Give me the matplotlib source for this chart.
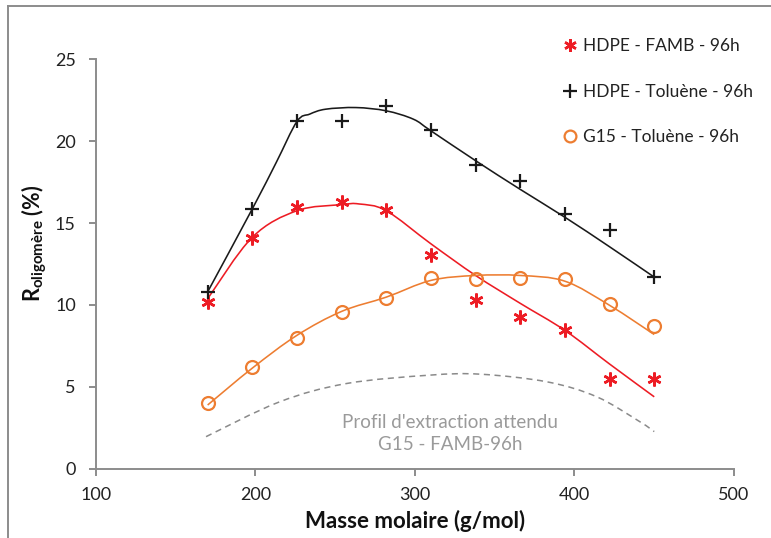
import numpy as np
import matplotlib
matplotlib.use("Agg")
import matplotlib.pyplot as plt
from matplotlib.lines import Line2D
from matplotlib.path import Path
from matplotlib.patches import PathPatch

plt.rcParams['font.family'] = ['Lato', 'DejaVu Sans']
plt.rcParams['mathtext.fontset'] = 'custom'
plt.rcParams['mathtext.rm'] = 'Lato'
plt.rcParams['mathtext.bf'] = 'Lato:bold'

# ---- measured points ----
masse = [170, 198, 226, 254, 282, 310, 338, 366, 394, 422, 450]
hdpe_famb = [10.2, 14.1, 16.0, 16.3, 15.8, 13.05, 10.3, 9.25, 8.5, 5.5, 5.5]
hdpe_toluene = [10.8, 15.85, 21.2, 21.2, 22.15, 20.65, 18.55, 17.55, 15.55, 14.55, 11.7]
g15_toluene = [4.0, 6.2, 8.0, 9.6, 10.45, 11.62, 11.6, 11.65, 11.57, 10.07, 8.7]

# ---- trend curves ----
tol_x = [170, 198, 213, 226, 234, 244, 263, 282, 299, 310, 338, 366, 394, 422, 450]
tol_y = [10.8, 15.86, 18.69, 21.19, 21.64, 21.94, 22.04, 21.84, 21.33, 20.62, 18.8, 17.05, 15.35, 13.55, 11.7]
famb_x = [170, 198, 226, 254, 265, 282, 310, 338, 366, 394, 422, 450]
famb_y = [10.38, 14.13, 15.75, 16.12, 16.16, 15.75, 13.73, 11.8, 10.1, 8.45, 6.4, 4.4]
g15_x = [170, 198, 226, 254, 282, 310, 338, 366, 394, 422, 450]
g15_y = [3.9, 6.15, 8.15, 9.61, 10.48, 11.5, 11.8, 11.8, 11.45, 9.98, 8.2]
att_x = [169, 215, 257, 309, 341, 383, 414, 441, 450]
att_y = [1.97, 4.09, 5.21, 5.72, 5.78, 5.31, 4.4, 2.88, 2.28]

labels = ["HDPE - FAMB - 96h", "HDPE - Toluène - 96h", "G15 - Toluène - 96h"]
annot = "Profil d'extraction attendu\nG15 - FAMB-96h"
xlabel = "Masse molaire (g/mol)"

red = '#ED1C24'
black = '#1A1A1A'
orange = '#ED7D31'
gray = '#8A8A8A'

fig = plt.figure(figsize=(7.71, 5.38), dpi=100)
ax = fig.add_axes([0.1245, 0.1283, 0.8275, 0.762])


def smooth_path(xv, yv):
    P = np.column_stack([xv, yv]).astype(float)
    P = np.vstack([P[0], P, P[-1]])
    verts = [P[1]]
    codes = [Path.MOVETO]
    for i in range(1, len(P) - 2):
        c1 = P[i] + (P[i + 1] - P[i - 1]) / 6.0
        c2 = P[i + 1] - (P[i + 2] - P[i]) / 6.0
        verts += [c1, c2, P[i + 1]]
        codes += [Path.CURVE4] * 3
    return Path(verts, codes)


def curve(xv, yv, color, lw=1.15, ls='-'):
    ax.add_patch(PathPatch(smooth_path(xv, yv), facecolor='none', edgecolor=color,
                           lw=lw, ls=ls, transform=ax.transData))


curve(tol_x, tol_y, black)
curve(famb_x, famb_y, red)
curve(g15_x, g15_y, orange)
curve(att_x, att_y, gray, lw=1.1, ls=(0, (4, 3)))

ax.plot(masse, hdpe_famb, ls='none', marker=(6, 2, 0), ms=10, mec=red, mew=1.8)
ax.plot(masse, hdpe_toluene, ls='none', marker='+', ms=10, mec=black, mew=1.6)
ax.plot(masse, g15_toluene, ls='none', marker='o', ms=9.3, mfc='none', mec=orange, mew=1.6)

ax.set_xlim(100, 500)
ax.set_ylim(0, 25)
ax.set_xticks([100, 200, 300, 400, 500])
ax.set_yticks([0, 5, 10, 15, 20, 25])
for s in ['top', 'right']:
    ax.spines[s].set_visible(False)
for s in ['left', 'bottom']:
    ax.spines[s].set_color('#8C8C8C')
    ax.spines[s].set_linewidth(1.4)
ax.tick_params(direction='out', length=5, width=1.4, color='#8C8C8C',
               labelsize=13, labelcolor='#222222')
ax.tick_params(axis='y', pad=9.5)
ax.tick_params(axis='x', pad=8)

ax.set_xlabel(xlabel, fontsize=16, fontweight='bold', color='#111111', labelpad=5)
ax.set_ylabel(r'$\mathbf{R}_{\mathbf{oligomère}}$ (%)', fontsize=15.5,
              fontweight='bold', color='#111111')
ax.yaxis.set_label_coords(-0.073, 0.55)

ax.text(322, 2.16, annot, ha='center', va='center', color='#9A9A9A',
        fontsize=13.5, linespacing=1.4)

handles = [
    Line2D([], [], ls='none', marker=(6, 2, 0), ms=9, mec=red, mew=1.8),
    Line2D([], [], ls='none', marker='+', ms=10, mec=black, mew=1.6),
    Line2D([], [], ls='none', marker='o', ms=8.5, mfc='none', mec=orange, mew=1.6),
]
fig.legend(handles, labels, loc='upper left', bbox_to_anchor=(0.712, 0.958),
           frameon=False, fontsize=12.5, labelspacing=1.7, handlelength=0.6,
           handletextpad=0.45, labelcolor='#222222')

# outer frame (cropped at right and bottom)
fig.add_artist(Line2D([8 / 771, 8 / 771], [0, 1 - 6 / 538], transform=fig.transFigure,
                      color='#8C8C8C', lw=1.4))
fig.add_artist(Line2D([8 / 771, 1], [1 - 6 / 538, 1 - 6 / 538], transform=fig.transFigure,
                      color='#8C8C8C', lw=1.4))

fig.savefig('out.png', dpi=100)
